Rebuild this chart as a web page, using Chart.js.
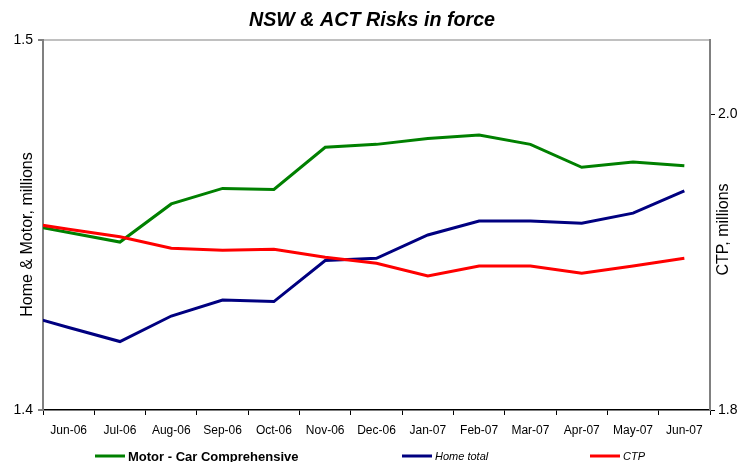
<!DOCTYPE html>
<html>
<head>
<meta charset="utf-8">
<script src="https://cdn.jsdelivr.net/npm/chart.js@4/dist/chart.umd.min.js"></script>
<style>
html, body { margin: 0; padding: 0; background: #fff; }
</style>
</head>
<body>
<canvas id="riskChart" width="744" height="462"></canvas>
<script>
// first month (May-06) sits just off the left edge, the lines run into the axis from it
const months = ['May-06', 'Jun-06', 'Jul-06', 'Aug-06', 'Sep-06', 'Oct-06', 'Nov-06', 'Dec-06',
  'Jan-07', 'Feb-07', 'Mar-07', 'Apr-07', 'May-07', 'Jun-07'];
const motorCar = [1.4505, 1.4480, 1.4454, 1.4557, 1.4599, 1.4596, 1.4710, 1.4718,
  1.4734, 1.4743, 1.4718, 1.4656, 1.4670, 1.4660];
const homeTotal = [1.4262, 1.4223, 1.4185, 1.4254, 1.4297, 1.4293, 1.4404, 1.4410,
  1.4473, 1.4511, 1.4511, 1.4505, 1.4532, 1.4592];
const ctp = [1.9273, 1.9222, 1.9171, 1.9093, 1.9079, 1.9086, 1.9032, 1.8991,
  1.8905, 1.8973, 1.8973, 1.8924, 1.8973, 1.9025];
const leftTicks = [1.4, 1.5];
const rightTicks = [1.8, 2.0];

const FONT = '"Liberation Sans", Arial, sans-serif';
Chart.defaults.font.family = FONT;
Chart.defaults.color = '#000';

const axisTitles = {
  id: 'axisTitles',
  afterDraw(chart, args, opts) {
    const ctx = chart.ctx;
    ctx.save();
    ctx.font = '16px ' + FONT;
    ctx.fillStyle = '#000';
    ctx.textAlign = 'center';
    ctx.textBaseline = 'alphabetic';
    opts.items.forEach(t => {
      ctx.save();
      ctx.translate(t.x, t.y);
      ctx.rotate(-Math.PI / 2);
      ctx.fillText(t.text, 0, 0);
      ctx.restore();
    });
    ctx.restore();
  }
};

const bottomLegend = {
  id: 'bottomLegend',
  afterDraw(chart, args, opts) {
    const ctx = chart.ctx;
    ctx.save();
    ctx.textBaseline = 'middle';
    ctx.textAlign = 'left';
    chart.data.datasets.forEach((ds, i) => {
      const it = opts.items[i];
      ctx.strokeStyle = ds.borderColor;
      ctx.lineWidth = 3;
      ctx.beginPath();
      ctx.moveTo(it.x, opts.y);
      ctx.lineTo(it.x + 30, opts.y);
      ctx.stroke();
      ctx.font = it.font + ' ' + FONT;
      ctx.fillStyle = '#000';
      ctx.fillText(ds.label, it.x + 33, opts.y + 1);
    });
    ctx.restore();
  }
};

new Chart(document.getElementById('riskChart'), {
  type: 'line',
  data: {
    labels: months,
    datasets: [{
      label: 'Motor - Car Comprehensive',
      data: motorCar,
      borderColor: '#008000',
      yAxisID: 'yL',
      order: 2
    }, {
      label: 'Home total',
      data: homeTotal,
      borderColor: '#000080',
      yAxisID: 'yL',
      order: 1
    }, {
      label: 'CTP',
      data: ctp,
      borderColor: '#ff0000',
      yAxisID: 'yR',
      order: 0
    }]
  },
  options: {
    responsive: false,
    animation: false,
    elements: {
      line: { borderWidth: 3, tension: 0, fill: false },
      point: { radius: 0, hoverRadius: 0 }
    },
    layout: { padding: 0 },
    plugins: {
      legend: { display: false },
      tooltip: { enabled: false },
      title: {
        display: true,
        text: 'NSW & ACT Risks in force',
        color: '#000',
        font: { size: 19.7, weight: 'bold', style: 'italic' },
        padding: { top: 8.5, bottom: 7.9 }
      },
      axisTitles: {
        items: [
          { text: 'Home & Motor, millions', x: 31.5, y: 234.5 },
          { text: 'CTP, millions', x: 728, y: 229.5 }
        ]
      },
      bottomLegend: {
        y: 456,
        items: [
          { x: 95, font: 'bold 13px' },
          { x: 402, font: 'italic 11px' },
          { x: 590, font: 'italic 11px' }
        ]
      }
    },
    scales: {
      x: {
        type: 'category',
        min: months[1],
        offset: true,
        grid: { offset: true, drawOnChartArea: false, tickLength: 5, color: '#000', tickWidth: 1 },
        border: { color: '#000', width: 1.5 },
        ticks: { autoSkip: false, maxRotation: 0, padding: 8, color: '#000', font: { size: 12 } },
        afterFit: s => { s.height = 52; }
      },
      yL: {
        type: 'linear',
        position: 'left',
        min: 1.4,
        max: 1.5,
        afterBuildTicks: s => { s.ticks = leftTicks.map(v => ({ value: v })); },
        ticks: { padding: 5, color: '#000', font: { size: 14 }, callback: v => v.toFixed(1) },
        grid: {
          color: c => (c.tick && c.tick.value === 1.5 ? '#c0c0c0' : 'rgba(0,0,0,0)'),
          lineWidth: 2,
          tickLength: 5,
          tickColor: '#000',
          tickWidth: 1
        },
        border: { color: '#808080', width: 2 },
        afterFit: s => { s.width = 43; }
      },
      yR: {
        type: 'linear',
        position: 'right',
        min: 1.8,
        max: 2.05,
        afterBuildTicks: s => { s.ticks = rightTicks.map(v => ({ value: v })); },
        ticks: { padding: 3, color: '#000', font: { size: 14 }, callback: v => v.toFixed(1) },
        grid: { drawOnChartArea: false, tickLength: 5, tickColor: '#000', tickWidth: 1 },
        border: { color: '#808080', width: 2 },
        afterFit: s => { s.width = 34; }
      }
    }
  },
  plugins: [axisTitles, bottomLegend]
});
</script>
</body>
</html>
